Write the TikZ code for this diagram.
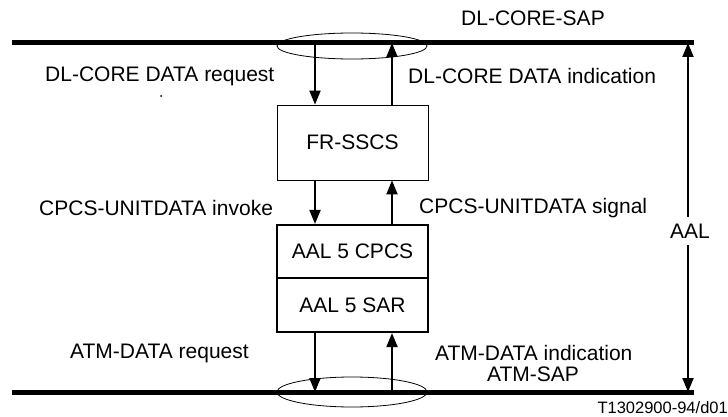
\documentclass[tikz,border=0pt]{standalone}
\usepackage{fontspec}
\setmainfont{Liberation Sans}
\usetikzlibrary{arrows.meta,shapes.geometric}
\begin{document}
\begin{tikzpicture}[x=1pt,y=-1pt,
  lbl/.style={font=\fontsize{21}{24}\selectfont, inner sep=0pt},
  sap/.style={line width=5pt},
  ring/.style={draw, ellipse, line width=0.8pt, minimum width=150pt, minimum height=26pt, inner sep=0pt},
  prim/.style={line width=2pt,-{Triangle[width=11pt,length=14pt]}},
  thinbox/.style={draw, line width=0.8pt, minimum width=151pt, font=\fontsize{21}{24}\selectfont, inner sep=0pt},
  thickbox/.style={draw, line width=2.2pt, minimum width=151pt, font=\fontsize{21}{24}\selectfont, inner sep=0pt}]
\useasboundingbox (0,0) rectangle (728,417);
% service access point lines
\coordinate (TL) at (12,43); \coordinate (TR) at (694,43);
\coordinate (BL) at (12,392); \coordinate (BR) at (694,392);
\draw[sap] (TL) -- (TR);
\draw[sap] (BL) -- (BR);
\node[ring] (topsap) at (352,46) {};
\node[ring, minimum height=30pt] (botsap) at (352,392) {};
% boxes
\node[thinbox, minimum height=75pt] (fr) at (352.5,142.5) {FR-SSCS};
\node[thickbox, minimum height=53pt] (cpcs) at (352.5,251.5) {AAL 5 CPCS};
\node[thickbox, minimum height=54pt] (sar) at (352.5,305) {AAL 5 SAR};
% arrow columns
\coordinate (cd) at (315,43); \coordinate (cu) at (392,43);
\coordinate (bd) at (315,392); \coordinate (bu) at (392,392);
\draw[prim] (cd) -- (cd |- fr.north);
\draw[prim] (cu |- fr.north) -- (cu);
\draw[prim] (cd |- fr.south) -- (cd |- cpcs.north);
\draw[prim] (cu |- cpcs.north) -- (cu |- fr.south);
\draw[prim] (bd |- sar.south) -- (bd);
\draw[prim] (bu) -- (bu |- sar.south);
% AAL span
\node[lbl] (aal) at (690,231) {AAL};
\coordinate (at) at (688,43); \coordinate (ab) at (688,392);
\draw[prim] (aal.north -| at) ++(0,-7) -- (at);
\draw[prim] (aal.south -| ab) ++(0,7) -- (ab);
% labels
\node[lbl] (lsap) at (533,18) {DL-CORE-SAP};
\node[lbl, anchor=west] (l1) at (45,76) {DL-CORE DATA request};
\node[lbl, anchor=west] (l2) at (408,76) {DL-CORE DATA indication};
\node[lbl, anchor=west] (l3) at (39,208) {CPCS-UNITDATA invoke};
\node[lbl, anchor=west] (l4) at (419,208) {CPCS-UNITDATA signal};
\node[lbl, anchor=west] (l5) at (70,353) {ATM-DATA request};
\node[lbl, anchor=west] (l6) at (435,353) {ATM-DATA indication};
\node[lbl, anchor=west] (l7) at (487,374) {ATM-SAP};
\node[font=\fontsize{16.5}{19}\selectfont, inner sep=0pt, anchor=east] (ref) at (728,408) {T1302900-94/d01};
\fill (161,96) circle (1pt);
\end{tikzpicture}
\end{document}
